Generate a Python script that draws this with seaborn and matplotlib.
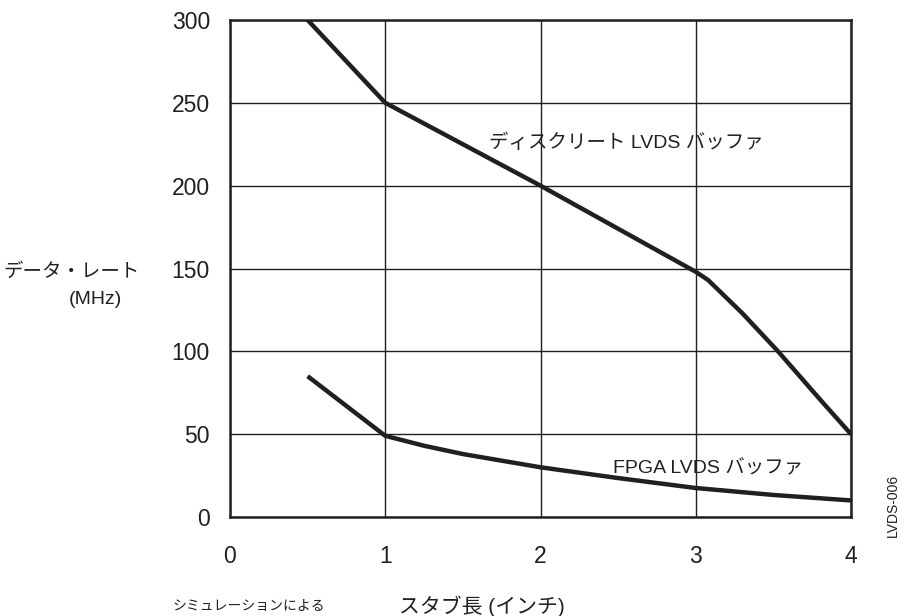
import matplotlib
matplotlib.use("Agg")
import matplotlib.pyplot as plt
import seaborn as sns
import pandas as pd

# Data rate vs. stub length
discrete_x = [0.5, 1, 2, 3, 3.08, 3.3, 3.53, 3.8, 4]
discrete_y = [300, 250, 200, 148, 143, 123, 100, 71, 50]
fpga_x = [0.5, 1, 1.25, 1.5, 1.75, 2, 2.5, 3, 3.5, 4]
fpga_y = [85, 49, 43, 38, 34, 30, 23.5, 17.5, 13.3, 10]
x_ticks = [0, 1, 2, 3, 4]
y_ticks = [0, 50, 100, 150, 200, 250, 300]

sns.set_theme(style="white")
plt.rcParams["font.family"] = ["Liberation Sans", "Noto Sans CJK JP", "DejaVu Sans"]
ink = "#231f20"

fig = plt.figure(figsize=(9.03, 6.16), dpi=100)
ax = fig.add_axes([230 / 903, 1 - 517 / 616, 621 / 903, 497 / 616])

df_d = pd.DataFrame({"x": discrete_x, "y": discrete_y})
df_f = pd.DataFrame({"x": fpga_x, "y": fpga_y})
sns.lineplot(data=df_d, x="x", y="y", ax=ax, color=ink, lw=3.2, sort=False,
             solid_capstyle="butt", solid_joinstyle="round", zorder=3)
sns.lineplot(data=df_f, x="x", y="y", ax=ax, color=ink, lw=3.2, sort=False,
             solid_capstyle="butt", solid_joinstyle="round", zorder=3)

ax.set_xlim(0, 4)
ax.set_ylim(0, 300)
ax.set_xticks(x_ticks)
ax.set_yticks(y_ticks)
ax.set_xticklabels([str(v) for v in x_ticks])
ax.set_yticklabels([str(v) for v in y_ticks])
ax.grid(True, color=ink, lw=1.0)
ax.set_axisbelow(True)
for s in ax.spines.values():
    s.set_color(ink)
    s.set_linewidth(1.8)
ax.tick_params(axis="both", length=0, labelsize=16.5, colors=ink)
ax.tick_params(axis="y", pad=14.5)
ax.tick_params(axis="x", pad=20)
ax.set_xlabel("")
ax.set_ylabel("")

ax.text(1.67, 226, "ディスクリート LVDS バッファ", fontsize=14, color=ink,
        va="center", ha="left")
ax.text(2.47, 29.5, "FPGA LVDS バッファ", fontsize=14, color=ink,
        va="center", ha="left")

fig.text(140 / 903, 1 - 272 / 616, "データ・レート", fontsize=14, color=ink,
         ha="right", va="center")
fig.text(95 / 903, 1 - 300 / 616, "(MHz)", fontsize=14, color=ink,
         ha="center", va="center")
fig.text(482 / 903, 1 - 606 / 616, "スタブ長 (インチ)", fontsize=15, color=ink,
         ha="center", va="center")
fig.text(249 / 903, 1 - 606 / 616, "シミュレーションによる", fontsize=10,
         color=ink, ha="center", va="center")
fig.text(893 / 903, 1 - 505 / 616, "LVDS-006", fontsize=10, color=ink,
         ha="center", va="center", rotation=90)

fig.savefig("out.png", dpi=100)
